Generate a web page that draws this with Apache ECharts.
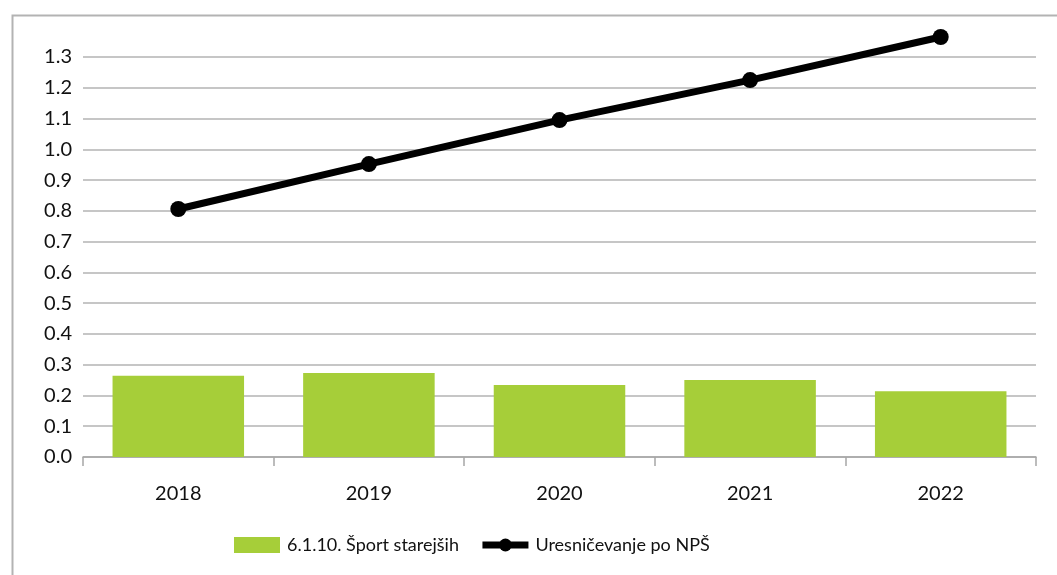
<!DOCTYPE html>
<html>
<head>
<meta charset="utf-8">
<script src="https://cdn.jsdelivr.net/npm/echarts@6/dist/echarts.min.js"></script>
<style>
  html, body { margin: 0; padding: 0; background: #fff; }
  #chart { width: 1057px; height: 575px; }
</style>
</head>
<body>
<div id="chart"></div>
<script>
// Years on the category axis
const years = ['2018', '2019', '2020', '2021', '2022'];
// 6.1.10. Šport starejših (bars)
const sportStarejsih = [0.264, 0.273, 0.234, 0.250, 0.214];
// Uresničevanje po NPŠ (line)
const uresnicevanje = [0.806, 0.952, 1.095, 1.225, 1.365];
// Value-axis ticks
const yTicks = { min: 0, max: 1.3, step: 0.1 };

const barName = '6.1.10. Šport starejših';
const lineName = 'Uresničevanje po NPŠ';
const fontFamily = 'Lato, "Open Sans", sans-serif';
const textColor = '#111111';

const chart = echarts.init(document.getElementById('chart'), null, { renderer: 'canvas' });
chart.setOption({
  animation: false,
  backgroundColor: '#ffffff',
  graphic: [{
    type: 'rect',
    left: 10, top: 13,
    shape: { width: 1100, height: 620 },
    style: { fill: 'none', stroke: '#b3b3b3', lineWidth: 2 },
    silent: true,
    z: -1
  }],
  grid: { left: 83, right: 21, top: 57, bottom: 118, containLabel: false },
  legend: {
    left: 229,
    top: 531,
    itemWidth: 46,
    itemHeight: 16,
    itemGap: 20,
    lineStyle: { width: 7 },
    textStyle: { fontFamily, fontSize: 18, color: textColor, padding: [0, 0, 0, 2] },
    data: [
      { name: barName, icon: 'rect' },
      { name: lineName }
    ]
  },
  xAxis: {
    type: 'category',
    data: years,
    axisLine: { show: true, lineStyle: { color: '#a6a6a6', width: 1.5 } },
    axisTick: { show: true, length: 9, alignWithLabel: false, lineStyle: { color: '#a6a6a6', width: 1.5 } },
    axisLabel: { margin: 27, fontFamily, fontSize: 20, color: textColor }
  },
  yAxis: {
    type: 'value',
    min: yTicks.min,
    max: yTicks.max,
    interval: yTicks.step,
    axisLine: { show: false },
    axisTick: { show: false },
    splitLine: { show: true, lineStyle: { color: '#b3b3b3', width: 1.5 } },
    axisLabel: {
      margin: 11,
      fontFamily, fontSize: 20, color: textColor,
      formatter: v => v.toFixed(1)
    }
  },
  series: [
    {
      name: barName,
      type: 'bar',
      data: sportStarejsih,
      barWidth: '69%',
      itemStyle: { color: '#a6ce39' }
    },
    {
      name: lineName,
      type: 'line',
      data: uresnicevanje,
      clip: false,
      symbol: 'circle',
      symbolSize: 16,
      lineStyle: { color: '#000000', width: 7 },
      itemStyle: { color: '#000000' },
      z: 3
    }
  ]
});
</script>
</body>
</html>
